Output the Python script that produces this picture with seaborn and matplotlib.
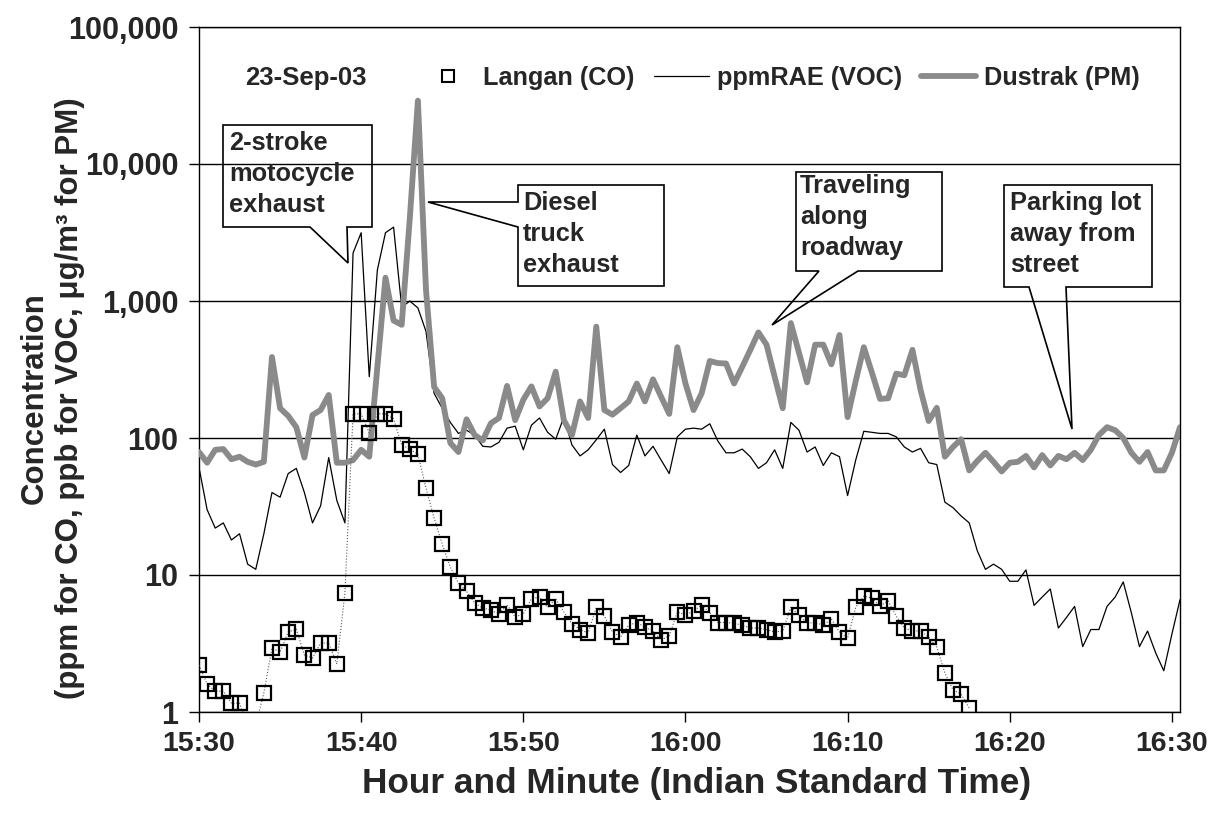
import matplotlib
matplotlib.use("Agg")
import pandas as pd
import seaborn as sns
import matplotlib.pyplot as plt
from matplotlib.lines import Line2D
from matplotlib.patches import Polygon
from matplotlib.ticker import NullLocator

# Readings every 30 s from 15:30, 23-Sep-03
langan_co = [2.2, 1.6, 1.42, 1.42, 1.16, 1.16, 0.8, 0.8, 1.38, 2.93,
             2.74, 3.84, 4.03, 2.6, 2.48, 3.19, 3.19, 2.24, 7.39, 150,
             150, 109, 150, 150, 138, 89, 83, 76, 43, 26,
             16.8, 11.4, 8.7, 7.6, 6.25, 5.75, 5.55, 5.2, 6.05, 4.94,
             5.2, 6.7, 6.9, 5.8, 6.7, 5.37, 4.4, 4.0, 3.77, 5.8,
             5.0, 3.84, 3.53, 4.3, 4.5, 4.17, 3.9, 3.35, 3.6, 5.37,
             5.1, 5.45, 6.05, 5.3, 4.5, 4.5, 4.45, 4.3, 4.1, 4.1,
             4.0, 3.84, 3.9, 5.8, 5.1, 4.45, 4.5, 4.3, 4.77, 3.84,
             3.45, 5.8, 7.0, 6.8, 5.95, 6.45, 5.0, 4.1, 3.9, 3.9,
             3.53, 2.98, 1.93, 1.45, 1.35, 1.07]
pprae_voc = [61, 30, 22, 24, 18, 20, 12, 11, 20, 40,
             37, 55, 60, 40, 24, 32, 72, 35, 24, 2240,
             3150, 280, 1680, 3150, 3460, 900, 1000, 890, 600, 212,
             165, 130, 108, 114, 105, 87, 86, 93, 118, 122,
             82, 124, 140, 110, 98, 142, 89, 74, 82, 97,
             116, 64, 56, 63, 105, 74, 87, 69, 55, 102,
             116, 118, 116, 127, 95, 78, 78, 83, 73, 60,
             66, 82, 60, 130, 114, 79, 86, 63, 78, 73,
             38, 69, 112, 110, 108, 108, 102, 86, 79, 84,
             66, 64, 34, 31, 27, 24, 15, 11, 12, 11,
             9.0, 9.0, 10.9, 6.0, 6.9, 7.9, 4.1, 4.9, 5.9, 3.0,
             4.0, 4.0, 5.9, 6.9, 8.9, 5.3, 3.0, 3.9, 2.7, 2.0,
             3.7, 6.6]
dustrak_pm = [79, 66, 82, 83, 70, 73, 67, 64, 67, 390,
              165, 145, 120, 72, 147, 160, 206, 66, 66, 69,
              82, 73, 330, 1480, 720, 670, 4000, 29000, 1200, 236,
              195, 92, 79, 137, 105, 96, 128, 140, 240, 135,
              190, 238, 170, 195, 305, 135, 105, 185, 140, 650,
              160, 148, 165, 185, 250, 185, 268, 200, 150, 460,
              250, 160, 212, 365, 352, 350, 250, 330, 440, 590,
              480, 280, 165, 690, 420, 255, 480, 480, 345, 565,
              142, 260, 460, 300, 193, 195, 295, 287, 440, 224,
              133, 166, 73, 86, 98, 58, 68, 78, 67, 57,
              66, 67, 74, 61, 75, 63, 74, 70, 78, 69,
              82, 105, 120, 114, 100, 78, 67, 79, 58, 58,
              78, 120]

day = "2003-09-23"
tick_labels = ["15:30", "15:40", "15:50", "16:00", "16:10", "16:20", "16:30"]
y_ticks = [1, 10, 100, 1000, 10000, 100000]
y_tick_labels = ["1", "10", "100", "1,000", "10,000", "100,000"]

times = pd.date_range(f"{day} 15:30:00", periods=len(pprae_voc), freq="30s")
co_times = times[:len(langan_co)]

sns.set_style("white")
plt.rcParams["font.family"] = ["Liberation Sans", "DejaVu Sans"]
plt.rcParams["font.weight"] = "bold"

fig = plt.figure(figsize=(12.11, 8.17), dpi=100)
# axes frame placed like the reference (pixels 199..1180 x 27..712)
ax = fig.add_axes([199 / 1211, 1 - 712 / 817, 981 / 1211, 685 / 817])
ax.set_yscale("log")

sns.lineplot(x=times, y=pprae_voc, ax=ax, color="black", lw=0.9, zorder=3)
sns.lineplot(x=times, y=dustrak_pm, ax=ax, color="#8a8a8a", lw=4.2, zorder=4)
sns.lineplot(x=co_times, y=langan_co, ax=ax, color="0.35", lw=0.8, linestyle=":",
             marker="s", markersize=10, markerfacecolor="none",
             markeredgecolor="black", markeredgewidth=1.6, zorder=5)

ax.set_ylim(1, 100000)
ax.set_xlim(pd.Timestamp(f"{day} 15:30:00"), pd.Timestamp(f"{day} 16:30:30"))
ax.set_yticks(y_ticks)
ax.set_yticklabels(y_tick_labels)
ax.yaxis.set_minor_locator(NullLocator())
ax.set_xticks([pd.Timestamp(f"{day} {t}") for t in tick_labels])
ax.set_xticklabels(tick_labels)
ax.tick_params(axis="both", direction="out", length=7, width=1, color="black", left=True, bottom=True)
ax.tick_params(axis="x", labelsize=20.5, pad=7)
ax.tick_params(axis="y", labelsize=22, pad=8)
for lbl in ax.get_xticklabels() + ax.get_yticklabels():
    lbl.set_fontweight("bold")

ax.grid(False)
for y in y_ticks:
    ax.axhline(y, color="black", lw=1, zorder=1)
for s in ax.spines.values():
    s.set_color("black")
    s.set_linewidth(1)

ax.set_xlabel("Hour and Minute (Indian Standard Time)", fontsize=25.4, fontweight="bold", va="top")
ax.xaxis.set_label_coords(0.507, -0.08)
ax.set_ylabel("Concentration\n(ppm for CO, ppb for VOC, \u03bcg/m\u00b3 for PM)",
              fontsize=22.5, fontweight="bold", linespacing=1.25)
ax.yaxis.set_label_coords(-0.116, 0.458)


# reference-pixel -> axes fraction
def frac(px, py):
    return ((px - 199) / 981, (712 - py) / 685)


def callout(verts_px, text, text_px):
    ax.add_patch(Polygon([frac(x, y) for x, y in verts_px], closed=True, fill=False,
                         edgecolor="black", lw=1.2, transform=ax.transAxes, zorder=6))
    ax.text(*frac(*text_px), text, transform=ax.transAxes, ha="left", va="top",
            fontsize=18.3, fontweight="bold", linespacing=1.38, zorder=7)


callout([(223, 125), (372, 125), (372, 227), (347, 227), (348, 263), (310, 227), (223, 227)],
        "2-stroke\nmotocycle\nexhaust", (229, 131))
callout([(518, 185), (664, 185), (664, 286), (518, 286), (518, 227), (428, 202), (518, 202)],
        "Diesel\ntruck\nexhaust", (523, 191))
callout([(796, 172), (942, 172), (942, 271), (858, 271), (772, 325), (819, 271), (796, 271)],
        "Traveling\nalong\nroadway", (800, 174))
callout([(1004, 185), (1152, 185), (1152, 287), (1066, 287), (1072, 429), (1029, 287), (1004, 287)],
        "Parking lot\naway from\nstreet", (1010, 191))

ax.text(*frac(245, 78), "23-Sep-03", transform=ax.transAxes, ha="left", va="center",
        fontsize=18.5, fontweight="bold")
handles = [Line2D([], [], ls="none", marker="s", markersize=9, markerfacecolor="none",
                  markeredgecolor="black", markeredgewidth=1.5),
           Line2D([], [], color="black", lw=0.9),
           Line2D([], [], color="#8a8a8a", lw=4.2)]
ax.legend(handles, ["Langan (CO)", "ppmRAE (VOC)", "Dustrak (PM)"], ncol=3, frameon=False,
          loc="center left", bbox_to_anchor=frac(420, 78), borderaxespad=0, borderpad=0,
          handlelength=2.2, handletextpad=0.3, columnspacing=0.75,
          prop={"size": 18.2, "weight": "bold"})

fig.savefig("out.png", dpi=100)
